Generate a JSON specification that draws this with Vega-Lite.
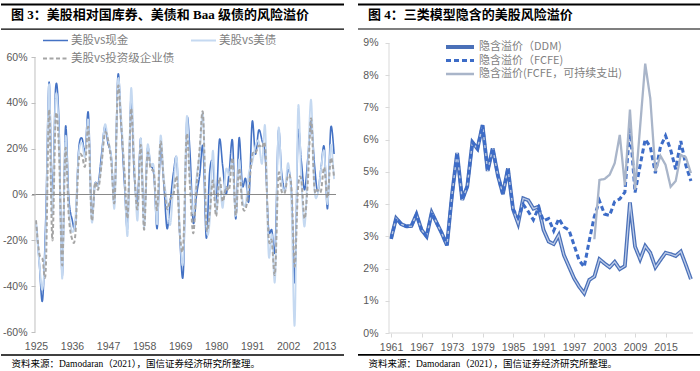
{
 "$schema": "https://vega.github.io/schema/vega-lite/v6.json",
 "background": "#ffffff",
 "padding": {"left": 0, "top": 3, "right": 0, "bottom": 0},
 "spacing": 12,
 "resolve": {
  "scale": {"x": "independent", "y": "independent", "color": "independent", "strokeDash": "independent", "strokeWidth": "independent"},
  "legend": {"color": "independent", "strokeDash": "independent", "strokeWidth": "independent"},
  "axis": {"x": "independent", "y": "independent"}
 },
 "config": {
  "view": {"stroke": null},
  "font": "Noto Sans CJK SC",
  "axis": {"grid": false, "labelFont": "Liberation Sans", "labelFontSize": 10.5, "labelColor": "#595959"},
  "legend": {"title": null, "padding": 0, "symbolType": "stroke", "labelFont": "Noto Sans CJK SC", "labelFontSize": 11.5, "labelColor": "#7F7F7F"}
 },
 "datasets": {
  "left": [
   {"年份":1925,"美股vs现金":-11.46,"美股vs美债":-12.50,"美股vs投资级企业债":-11.32},
   {"年份":1926,"美股vs现金":-29.67,"美股vs美债":-29.66,"美股vs投资级企业债":-25.66},
   {"年份":1927,"美股vs现金":-46.15,"美股vs美债":-41.28,"美股vs投资级企业债":-28.16},
   {"年份":1928,"美股vs现金":-9.71,"美股vs美债":-17.43,"美股vs投资级企业债":-32.23},
   {"年份":1929,"美股vs现金":49.02,"美股vs美债":48.12,"美股vs投资级企业债":37.01},
   {"年份":1930,"美股vs现金":-1.47,"美股vs美债":-9.15,"美股vs投资级企业债":-20.01},
   {"年份":1931,"美股vs现金":46.57,"美股vs美债":42.27,"美股vs投资级企业债":33.43},
   {"年份":1932,"美股vs现金":31.77,"美股vs美债":26.92,"美股vs投资级企业债":20.56},
   {"年份":1933,"美股vs现金":-35.62,"美股vs美债":-36.72,"美股vs投资级企业债":-30.92},
   {"年份":1934,"美股vs现金":29.21,"美股vs美债":25.07,"美股vs投资级企业债":20.04},
   {"年份":1935,"美股vs现金":-1.15,"美股vs美债":-5.51,"美股vs投资级企业债":-9.08},
   {"年份":1936,"美股vs现金":-10.71,"美股vs美债":-16.07,"美股vs投资级企业债":-19.32},
   {"年份":1937,"美股vs现金":-12.90,"美股vs美债":-10.75,"美股vs投资级企业债":-17.78},
   {"年份":1938,"美股vs现金":18.83,"美股vs美债":16.88,"美股vs投资级企业债":13.99},
   {"年份":1939,"美股vs现金":24.68,"美股vs美债":22.57,"美股vs投资级企业债":17.02},
   {"年份":1940,"美股vs现金":18.65,"美股vs美债":16.45,"美股vs投资级企业债":12.46},
   {"年份":1941,"美股vs现金":35.44,"美股vs美债":32.02,"美股vs投资级企业债":29.02},
   {"年份":1942,"美股vs现金":-8.81,"美股vs美债":-11.56,"美股vs投资级企业债":-10.94},
   {"年份":1943,"美股vs现金":4.63,"美股vs美债":4.28,"美股vs投资级企业债":4.94},
   {"年份":1944,"美股vs现金":4.68,"美股vs美债":3.75,"美股vs投资级企业债":2.26},
   {"年份":1945,"美股vs现金":17.20,"美股vs美债":13.64,"美股vs投资级企业债":12.92},
   {"年份":1946,"美股vs现金":29.64,"美股vs美债":30.38,"美股vs投资级企业债":26.57},
   {"年份":1947,"美股vs现金":22.20,"美股vs美债":23.98,"美股vs投资级企业债":23.87},
   {"年份":1948,"美股vs现金":16.48,"美股vs美债":15.88,"美股vs投资级企业债":13.71},
   {"年份":1949,"美股vs现金":-3.10,"美股vs美债":-5.35,"美股vs投资级企业债":-2.83},
   {"年份":1950,"美股vs现金":51.60,"美股vs美债":49.27,"美股vs投资级企业债":46.40},
   {"年份":1951,"美股vs现金":30.94,"美股vs美债":33.94,"美股vs投资级企业债":30.56},
   {"年份":1952,"美股vs现金":4.88,"美股vs美债":9.70,"美股vs投资级企业债":9.79},
   {"年份":1953,"美股vs现金":-13.69,"美股vs美债":-17.26,"美股vs投资级企业债":-9.74},
   {"年份":1954,"美股vs现金":41.94,"美股vs美债":45.82,"美股vs投资级企业债":37.29},
   {"年份":1955,"美股vs现金":8.80,"美股vs美债":14.71,"美股vs投资级企业债":10.49},
   {"年份":1956,"美股vs现金":-2.71,"美股vs美债":-11.30,"美股vs投资级企业债":-6.32},
   {"年份":1957,"美股vs现金":24.37,"美股vs美债":24.58,"美股vs投资级企业债":21.54},
   {"年份":1958,"美股vs现金":-11.59,"美股vs美债":-14.50,"美股vs投资级企业债":-15.31},
   {"年份":1959,"美股vs现金":19.50,"美股vs美债":20.93,"美股vs投资级企业债":17.15},
   {"年份":1960,"美股vs现金":12.91,"美股vs美债":12.69,"美股vs投资级企业债":11.26},
   {"年份":1961,"美股vs现金":8.50,"美股vs美债":11.68,"美股vs投资级企业债":9.21},
   {"年份":1962,"美股vs现金":-14.81,"美股vs美债":-12.88,"美股vs投资级企业债":-6.52},
   {"年份":1963,"美股vs现金":19.47,"美股vs美债":25.38,"美股vs投资级企业债":22.90},
   {"年份":1964,"美股vs现金":5.55,"美股vs美债":7.54,"美股vs投资级企业债":5.96},
   {"年份":1965,"美股vs现金":-14.80,"美股vs美债":-3.23,"美股vs投资级企业债":-6.21},
   {"年份":1966,"美股vs现金":-3.13,"美股vs美债":-13.19,"美股vs投资级企业债":-2.09},
   {"年份":1967,"美股vs现金":9.68,"美股vs美债":4.43,"美股vs投资级企业债":0.22},
   {"年份":1968,"美股vs现金":14.81,"美股vs美债":15.94,"美股vs投资级企业债":7.35},
   {"年份":1969,"美股vs现金":-21.04,"美股vs美债":-17.97,"美股vs投资级企业债":-18.63},
   {"年份":1970,"美股vs现金":-33.68,"美股vs美债":-27.89,"美股vs投资级企业债":-21.52},
   {"年份":1971,"美股vs现金":31.01,"美股vs美债":33.39,"美股vs投资级企业债":25.95},
   {"年份":1972,"美股vs现金":18.86,"美股vs美债":7.85,"美股vs投资级企业债":4.08},
   {"年份":1973,"美股vs现金":-12.11,"美股vs美债":-8.27,"美股vs投资级企业债":-16.93},
   {"年份":1974,"美股vs现金":-0.42,"美股vs美债":7.29,"美股vs投资级企业债":3.37},
   {"年份":1975,"美股vs现金":8.58,"美股vs美债":17.85,"美股vs投资级企业债":20.53},
   {"年份":1976,"美股vs现金":20.52,"美股vs美债":34.73,"美股vs投资级企业债":35.06},
   {"年份":1977,"美股vs现金":-19.00,"美股vs美债":-12.90,"美股vs投资级企业债":-13.16},
   {"年份":1978,"美股vs现金":9.41,"美股vs美债":-12.39,"美股vs投资级企业债":-8.63},
   {"年份":1979,"美股vs现金":13.89,"美股vs美债":19.14,"美股vs投资级企业债":6.15},
   {"年份":1980,"美股vs现金":-3.46,"美股vs美债":-7.58,"美股vs投资级企业债":-9.47},
   {"年份":1981,"美股vs现金":23.75,"美股vs美债":5.53,"美股vs投资级企业债":7.38},
   {"年份":1982,"美股vs现金":12.45,"美股vs美债":-5.79,"美股vs投资级企业债":-3.00},
   {"年份":1983,"美股vs现金":0.09,"美股vs美债":10.77,"美股vs投资级企业债":3.15},
   {"年份":1984,"美股vs现金":10.09,"美股vs美债":8.32,"美股vs投资级企业债":2.39},
   {"年份":1985,"美股vs现金":23.37,"美股vs美债":13.79,"美股vs投资级企业债":15.80},
   {"年份":1986,"美股vs现金":-10.61,"美股vs美债":-9.30,"美股vs投资级企业债":-9.09},
   {"年份":1987,"美股vs现金":24.62,"美股vs美债":15.23,"美股vs投资级企业债":11.35},
   {"年份":1988,"美股vs现金":4.08,"美股vs美债":-1.87,"美股vs投资级企业债":-4.59},
   {"年份":1989,"美股vs现金":6.99,"美股vs美债":-4.24,"美股vs投资级企业债":-6.25},
   {"年份":1990,"美股vs现金":-2.66,"美股vs美债":9.37,"美股vs投资级企业债":2.65},
   {"年份":1991,"美股vs现金":31.68,"美股vs美债":13.72,"美股vs投资级企业债":17.04},
   {"年份":1992,"美股vs现金":17.66,"美股vs美债":21.25,"美股vs投资级企业债":17.89},
   {"年份":1993,"美股vs现金":28.05,"美股vs美债":23.16,"美股vs投资级企业债":21.27},
   {"年份":1994,"美股vs现金":23.61,"美股vs美债":13.42,"美股vs投资级企业债":20.39},
   {"年份":1995,"美股vs现金":16.38,"美股vs美债":29.14,"美股vs投资级企业债":20.05},
   {"年份":1996,"美股vs现金":-14.79,"美股vs美债":-25.69,"美股vs投资级企业债":-18.36},
   {"年份":1997,"美股vs现金":-15.52,"美股vs美债":-17.42,"美股vs投资级企业债":-20.29},
   {"年份":1998,"美股vs现金":-23.63,"美股vs美债":-37.09,"美股vs投资级企业债":-34.30},
   {"年份":1999,"美股vs现金":27.33,"美股vs美债":27.98,"美股vs投资级企业债":7.99},
   {"年份":2000,"美股vs现金":9.51,"美股vs美债":6.25,"美股vs投资级企业债":1.40},
   {"年份":2001,"美股vs现金":1.82,"美股vs美债":1.96,"美股vs投资级企业债":0.98},
   {"年份":2002,"美股vs现金":10.93,"美股vs美债":13.65,"美股vs投资级企业债":8.42},
   {"年份":2003,"美股vs现金":0.84,"美股vs美债":-4.73,"美股vs投资级企业债":2.69},
   {"年份":2004,"美股vs现金":-38.14,"美股vs美债":-56.65,"美股vs投资级企业债":-31.48},
   {"年份":2005,"美股vs现金":25.80,"美股vs美债":37.06,"美股vs投资级企业债":2.61},
   {"年份":2006,"美股vs现金":14.69,"美股vs美债":6.36,"美股vs投资级企业债":6.47},
   {"年份":2007,"美股vs现金":2.07,"美股vs美债":-13.94,"美股vs投资级企业债":-10.48},
   {"年份":2008,"美股vs现金":15.84,"美股vs美债":12.92,"美股vs投资级企业债":5.77},
   {"年份":2009,"美股vs现金":32.08,"美股vs美债":41.25,"美股vs投资级企业债":33.21},
   {"年份":2010,"美股vs现金":13.47,"美股vs美债":2.77,"美股vs投资级企业债":3.14},
   {"年份":2011,"美股vs现金":1.17,"美股vs美债":0.10,"美股vs投资级企业债":2.08},
   {"年份":2012,"美股vs现金":11.26,"美股vs美债":11.08,"美股vs投资级企业债":1.40},
   {"年份":2013,"美股vs现金":20.68,"美股vs美债":18.81,"美股vs投资级企业债":11.89},
   {"年份":2014,"美股vs现金":-6.17,"美股vs美债":-4.21,"美股vs投资级企业债":-1.47},
   {"年份":2015,"美股vs现金":29.15,"美股vs美债":21.57,"美股vs投资级企业债":15.88},
   {"年份":2016,"美股vs现金":17.67,"美股vs美债":6.69,"美股vs投资级企业债":7.61}
  ],
  "right": [
   {"年份":1961,"系列":"隐含溢价（DDM)","溢价":2.92},{"年份":1962,"系列":"隐含溢价（DDM)","溢价":3.56},{"年份":1963,"系列":"隐含溢价（DDM)","溢价":3.38},{"年份":1964,"系列":"隐含溢价（DDM)","溢价":3.31},{"年份":1965,"系列":"隐含溢价（DDM)","溢价":3.32},{"年份":1966,"系列":"隐含溢价（DDM)","溢价":3.68},{"年份":1967,"系列":"隐含溢价（DDM)","溢价":3.20},{"年份":1968,"系列":"隐含溢价（DDM)","溢价":3.00},{"年份":1969,"系列":"隐含溢价（DDM)","溢价":3.74},{"年份":1970,"系列":"隐含溢价（DDM)","溢价":3.41},
   {"年份":1971,"系列":"隐含溢价（DDM)","溢价":3.09},{"年份":1972,"系列":"隐含溢价（DDM)","溢价":2.72},{"年份":1973,"系列":"隐含溢价（DDM)","溢价":4.30},{"年份":1974,"系列":"隐含溢价（DDM)","溢价":5.59},{"年份":1975,"系列":"隐含溢价（DDM)","溢价":4.13},{"年份":1976,"系列":"隐含溢价（DDM)","溢价":4.55},{"年份":1977,"系列":"隐含溢价（DDM)","溢价":5.92},{"年份":1978,"系列":"隐含溢价（DDM)","溢价":5.72},{"年份":1979,"系列":"隐含溢价（DDM)","溢价":6.45},{"年份":1980,"系列":"隐含溢价（DDM)","溢价":5.03},
   {"年份":1981,"系列":"隐含溢价（DDM)","溢价":5.73},{"年份":1982,"系列":"隐含溢价（DDM)","溢价":4.90},{"年份":1983,"系列":"隐含溢价（DDM)","溢价":4.31},{"年份":1984,"系列":"隐含溢价（DDM)","溢价":5.11},{"年份":1985,"系列":"隐含溢价（DDM)","溢价":3.84},{"年份":1986,"系列":"隐含溢价（DDM)","溢价":3.40},{"年份":1987,"系列":"隐含溢价（DDM)","溢价":4.18},{"年份":1988,"系列":"隐含溢价（DDM)","溢价":4.12},{"年份":1989,"系列":"隐含溢价（DDM)","溢价":3.86},{"年份":1990,"系列":"隐含溢价（DDM)","溢价":3.92},
   {"年份":1991,"系列":"隐含溢价（DDM)","溢价":3.20},{"年份":1992,"系列":"隐含溢价（DDM)","溢价":2.84},{"年份":1993,"系列":"隐含溢价（DDM)","溢价":2.76},{"年份":1994,"系列":"隐含溢价（DDM)","溢价":3.04},{"年份":1995,"系列":"隐含溢价（DDM)","溢价":2.42},{"年份":1996,"系列":"隐含溢价（DDM)","溢价":2.06},{"年份":1997,"系列":"隐含溢价（DDM)","溢价":1.70},{"年份":1998,"系列":"隐含溢价（DDM)","溢价":1.44},{"年份":1999,"系列":"隐含溢价（DDM)","溢价":1.23},{"年份":2000,"系列":"隐含溢价（DDM)","溢价":1.65},
   {"年份":2001,"系列":"隐含溢价（DDM)","溢价":1.75},{"年份":2002,"系列":"隐含溢价（DDM)","溢价":2.29},{"年份":2003,"系列":"隐含溢价（DDM)","溢价":2.16},{"年份":2004,"系列":"隐含溢价（DDM)","溢价":2.04},{"年份":2005,"系列":"隐含溢价（DDM)","溢价":2.21},{"年份":2006,"系列":"隐含溢价（DDM)","溢价":1.98},{"年份":2007,"系列":"隐含溢价（DDM)","溢价":2.08},{"年份":2008,"系列":"隐含溢价（DDM)","溢价":4.05},{"年份":2009,"系列":"隐含溢价（DDM)","溢价":2.68},{"年份":2010,"系列":"隐含溢价（DDM)","溢价":2.29},
   {"年份":2011,"系列":"隐含溢价（DDM)","溢价":2.70},{"年份":2012,"系列":"隐含溢价（DDM)","溢价":2.49},{"年份":2013,"系列":"隐含溢价（DDM)","溢价":2.04},{"年份":2014,"系列":"隐含溢价（DDM)","溢价":2.27},{"年份":2015,"系列":"隐含溢价（DDM)","溢价":2.49},{"年份":2016,"系列":"隐含溢价（DDM)","溢价":2.45},{"年份":2017,"系列":"隐含溢价（DDM)","溢价":2.39},{"年份":2018,"系列":"隐含溢价（DDM)","溢价":2.53},{"年份":2019,"系列":"隐含溢价（DDM)","溢价":2.11},{"年份":2020,"系列":"隐含溢价（DDM)","溢价":1.67},
   {"年份":1961,"系列":"隐含溢价（FCFE)","溢价":2.92},{"年份":1962,"系列":"隐含溢价（FCFE)","溢价":3.56},{"年份":1963,"系列":"隐含溢价（FCFE)","溢价":3.38},{"年份":1964,"系列":"隐含溢价（FCFE)","溢价":3.31},{"年份":1965,"系列":"隐含溢价（FCFE)","溢价":3.32},{"年份":1966,"系列":"隐含溢价（FCFE)","溢价":3.68},{"年份":1967,"系列":"隐含溢价（FCFE)","溢价":3.20},{"年份":1968,"系列":"隐含溢价（FCFE)","溢价":3.00},{"年份":1969,"系列":"隐含溢价（FCFE)","溢价":3.74},{"年份":1970,"系列":"隐含溢价（FCFE)","溢价":3.41},
   {"年份":1971,"系列":"隐含溢价（FCFE)","溢价":3.09},{"年份":1972,"系列":"隐含溢价（FCFE)","溢价":2.72},{"年份":1973,"系列":"隐含溢价（FCFE)","溢价":4.30},{"年份":1974,"系列":"隐含溢价（FCFE)","溢价":5.59},{"年份":1975,"系列":"隐含溢价（FCFE)","溢价":4.13},{"年份":1976,"系列":"隐含溢价（FCFE)","溢价":4.55},{"年份":1977,"系列":"隐含溢价（FCFE)","溢价":5.92},{"年份":1978,"系列":"隐含溢价（FCFE)","溢价":5.72},{"年份":1979,"系列":"隐含溢价（FCFE)","溢价":6.45},{"年份":1980,"系列":"隐含溢价（FCFE)","溢价":5.03},
   {"年份":1981,"系列":"隐含溢价（FCFE)","溢价":5.73},{"年份":1982,"系列":"隐含溢价（FCFE)","溢价":4.90},{"年份":1983,"系列":"隐含溢价（FCFE)","溢价":4.31},{"年份":1984,"系列":"隐含溢价（FCFE)","溢价":5.11},{"年份":1985,"系列":"隐含溢价（FCFE)","溢价":3.84},{"年份":1986,"系列":"隐含溢价（FCFE)","溢价":3.58},{"年份":1987,"系列":"隐含溢价（FCFE)","溢价":3.99},{"年份":1988,"系列":"隐含溢价（FCFE)","溢价":3.77},{"年份":1989,"系列":"隐含溢价（FCFE)","溢价":3.51},{"年份":1990,"系列":"隐含溢价（FCFE)","溢价":3.89},
   {"年份":1991,"系列":"隐含溢价（FCFE)","溢价":3.48},{"年份":1992,"系列":"隐含溢价（FCFE)","溢价":3.55},{"年份":1993,"系列":"隐含溢价（FCFE)","溢价":3.17},{"年份":1994,"系列":"隐含溢价（FCFE)","溢价":3.55},{"年份":1995,"系列":"隐含溢价（FCFE)","溢价":3.29},{"年份":1996,"系列":"隐含溢价（FCFE)","溢价":3.20},{"年份":1997,"系列":"隐含溢价（FCFE)","溢价":2.73},{"年份":1998,"系列":"隐含溢价（FCFE)","溢价":2.26},{"年份":1999,"系列":"隐含溢价（FCFE)","溢价":2.05},{"年份":2000,"系列":"隐含溢价（FCFE)","溢价":2.87},
   {"年份":2001,"系列":"隐含溢价（FCFE)","溢价":3.62},{"年份":2002,"系列":"隐含溢价（FCFE)","溢价":4.10},{"年份":2003,"系列":"隐含溢价（FCFE)","溢价":3.69},{"年份":2004,"系列":"隐含溢价（FCFE)","溢价":3.65},{"年份":2005,"系列":"隐含溢价（FCFE)","溢价":4.08},{"年份":2006,"系列":"隐含溢价（FCFE)","溢价":4.16},{"年份":2007,"系列":"隐含溢价（FCFE)","溢价":4.37},{"年份":2008,"系列":"隐含溢价（FCFE)","溢价":6.43},{"年份":2009,"系列":"隐含溢价（FCFE)","溢价":4.36},{"年份":2010,"系列":"隐含溢价（FCFE)","溢价":5.20},
   {"年份":2011,"系列":"隐含溢价（FCFE)","溢价":6.01},{"年份":2012,"系列":"隐含溢价（FCFE)","溢价":5.78},{"年份":2013,"系列":"隐含溢价（FCFE)","溢价":4.96},{"年份":2014,"系列":"隐含溢价（FCFE)","溢价":5.78},{"年份":2015,"系列":"隐含溢价（FCFE)","溢价":6.12},{"年份":2016,"系列":"隐含溢价（FCFE)","溢价":5.69},{"年份":2017,"系列":"隐含溢价（FCFE)","溢价":5.08},{"年份":2018,"系列":"隐含溢价（FCFE)","溢价":5.96},{"年份":2019,"系列":"隐含溢价（FCFE)","溢价":5.20},{"年份":2020,"系列":"隐含溢价（FCFE)","溢价":4.72},
   {"年份":2001,"系列":"隐含溢价(FCFE，可持续支出)","溢价":2.91},{"年份":2002,"系列":"隐含溢价(FCFE，可持续支出)","溢价":4.75},{"年份":2003,"系列":"隐含溢价(FCFE，可持续支出)","溢价":4.78},{"年份":2004,"系列":"隐含溢价(FCFE，可持续支出)","溢价":4.91},{"年份":2005,"系列":"隐含溢价(FCFE，可持续支出)","溢价":5.27},{"年份":2006,"系列":"隐含溢价(FCFE，可持续支出)","溢价":6.15},{"年份":2007,"系列":"隐含溢价(FCFE，可持续支出)","溢价":4.58},{"年份":2008,"系列":"隐含溢价(FCFE，可持续支出)","溢价":6.93},{"年份":2009,"系列":"隐含溢价(FCFE，可持续支出)","溢价":4.45},{"年份":2010,"系列":"隐含溢价(FCFE，可持续支出)","溢价":6.40},
   {"年份":2011,"系列":"隐含溢价(FCFE，可持续支出)","溢价":8.36},{"年份":2012,"系列":"隐含溢价(FCFE，可持续支出)","溢价":7.28},{"年份":2013,"系列":"隐含溢价(FCFE，可持续支出)","溢价":5.02},{"年份":2014,"系列":"隐含溢价(FCFE，可持续支出)","溢价":5.50},{"年份":2015,"系列":"隐含溢价(FCFE，可持续支出)","溢价":5.22},{"年份":2016,"系列":"隐含溢价(FCFE，可持续支出)","溢价":4.54},{"年份":2017,"系列":"隐含溢价(FCFE，可持续支出)","溢价":4.72},{"年份":2018,"系列":"隐含溢价(FCFE，可持续支出)","溢价":5.53},{"年份":2019,"系列":"隐含溢价(FCFE，可持续支出)","溢价":5.45},{"年份":2020,"系列":"隐含溢价(FCFE，可持续支出)","溢价":4.96}
  ]
 },
 "hconcat": [
  {
   "width": 343,
   "height": 351.5,
   "title": {"text": "图 3：美股相对国库券、美债和 Baa 级债的风险溢价", "anchor": "start", "frame": "group", "dx": 10, "offset": -18.5, "font": "Liberation Serif, Noto Sans CJK SC", "fontSize": 13, "fontWeight": "bold", "color": "#000000"},
   "layer": [
    {"data": {"name": "left"},
     "transform": [{"fold": ["美股vs现金", "美股vs美债", "美股vs投资级企业债"], "as": ["系列", "溢价"]}],
     "mark": {"type": "line", "interpolate": "cardinal"},
     "encoding": {
      "x": {"field": "年份", "type": "quantitative", "scale": {"domain": [1914.32, 2019.04], "nice": false, "zero": false},
       "axis": {"values": [1925, 1936, 1947, 1958, 1969, 1980, 1991, 2002, 2013], "tickCount": 30, "format": "d", "labelOverlap": false, "labelFlush": false, "offset": -22.5, "domain": false, "ticks": false, "labelPadding": 8,
        "title": "资料来源：Damodaran（2021），国信证券经济研究所整理。", "titleFont": "Liberation Serif, Noto Sans CJK SC", "titleFontSize": 9.5, "titleFontWeight": "normal", "titleColor": "#000000", "titleAnchor": "start", "titleAlign": "left", "titleX": 10, "titleY": 30.5, "titleBaseline": "middle"}},
      "y": {"field": "溢价", "type": "quantitative", "scale": {"domain": [-70.25, 83.13], "nice": false, "zero": false},
       "axis": {"values": [-60, -40, -20, 0, 20, 40, 60], "tickCount": 30, "labelExpr": "datum.value + '%'", "labelOverlap": false, "labelFlush": false, "offset": -34, "domain": false, "ticks": true, "tickSize": 4, "tickColor": "#BFBFBF", "labelPadding": 4, "title": null}},
      "color": {"field": "系列", "type": "nominal", "scale": {"domain": ["美股vs现金", "美股vs美债", "美股vs投资级企业债"], "range": ["#4472C4", "#C5D9F1", "#A5A5A5"]},
       "legend": {"orient": "none", "direction": "horizontal", "legendX": 41, "legendY": 30.5, "columns": 2, "columnPadding": 15, "rowPadding": 6, "clipHeight": 12, "symbolSize": 625, "labelOffset": 2}},
      "strokeDash": {"field": "系列", "type": "nominal", "scale": {"domain": ["美股vs现金", "美股vs美债", "美股vs投资级企业债"], "range": [[1, 0], [1, 0], [4, 2.5]]},
       "legend": {"orient": "none", "direction": "horizontal", "legendX": 41, "legendY": 30.5, "columns": 2, "columnPadding": 15, "rowPadding": 6, "clipHeight": 12, "symbolSize": 625, "labelOffset": 2}},
      "strokeWidth": {"field": "系列", "type": "nominal", "scale": {"domain": ["美股vs现金", "美股vs美债", "美股vs投资级企业债"], "range": [1.6, 2, 2.2]},
       "legend": {"orient": "none", "direction": "horizontal", "legendX": 41, "legendY": 30.5, "columns": 2, "columnPadding": 15, "rowPadding": 6, "clipHeight": 12, "symbolSize": 625, "labelOffset": 2}}
     }},
    {"data": {"values": [{"线": "零轴"}]}, "mark": {"type": "rule", "color": "#898989", "strokeWidth": 1.2},
     "encoding": {"x": {"datum": 1923.8, "type": "quantitative"}, "x2": {"datum": 2016.6}, "y": {"datum": 0, "type": "quantitative"}}},
    {"data": {"values": [{"线": "纵轴"}]}, "mark": {"type": "rule", "color": "#BFBFBF", "strokeWidth": 1},
     "encoding": {"x": {"datum": 1924.7, "type": "quantitative"}, "y": {"datum": -60, "type": "quantitative"}, "y2": {"datum": 60}}},
    {"data": {"values": [{"线": "顶线"}]}, "mark": {"type": "rule", "color": "#000000", "strokeWidth": 2},
     "encoding": {"x": {"datum": 1914.32, "type": "quantitative"}, "x2": {"datum": 2019.04}, "y": {"datum": 82.91, "type": "quantitative"}}},
    {"data": {"values": [{"线": "标题线"}]}, "mark": {"type": "rule", "color": "#000000", "strokeWidth": 1.2},
     "encoding": {"x": {"datum": 1914.32, "type": "quantitative"}, "x2": {"datum": 2019.04}, "y": {"datum": 72.13, "type": "quantitative"}}},
    {"data": {"values": [{"线": "底线"}]}, "mark": {"type": "rule", "color": "#000000", "strokeWidth": 1.6},
     "encoding": {"x": {"datum": 1914.32, "type": "quantitative"}, "x2": {"datum": 2019.04}, "y": {"datum": -70.03, "type": "quantitative"}}}
   ]
  },
  {
   "width": 345,
   "height": 351.5,
   "title": {"text": "图 4：三类模型隐含的美股风险溢价", "anchor": "start", "frame": "group", "dx": 10, "offset": -18.5, "font": "Liberation Serif, Noto Sans CJK SC", "fontSize": 13, "fontWeight": "bold", "color": "#000000"},
   "layer": [
    {"data": {"name": "right"},
     "transform": [{"filter": {"field": "系列", "equal": "隐含溢价（DDM)"}}],
     "mark": {"type": "line"},
     "encoding": {
      "x": {"field": "年份", "type": "quantitative", "scale": {"domain": [1954.5, 2022.37], "nice": false, "zero": false},
       "axis": {"values": [1961, 1967, 1973, 1979, 1985, 1991, 1997, 2003, 2009, 2015], "tickCount": 30, "format": "d", "labelOverlap": false, "labelFlush": false, "offset": -22.5, "domain": false, "ticks": true, "tickSize": 4, "tickColor": "#D9D9D9", "labelPadding": 5,
        "title": "资料来源：Damodaran（2021），国信证券经济研究所整理。", "titleFont": "Liberation Serif, Noto Sans CJK SC", "titleFontSize": 9.5, "titleFontWeight": "normal", "titleColor": "#000000", "titleAnchor": "start", "titleAlign": "left", "titleX": 10, "titleY": 30.5, "titleBaseline": "middle"}},
      "y": {"field": "溢价", "type": "quantitative", "scale": {"domain": [-0.698, 10.21], "nice": false, "zero": false},
       "axis": {"values": [0, 1, 2, 3, 4, 5, 6, 7, 8, 9], "tickCount": 30, "labelExpr": "datum.value + '%'", "labelOverlap": false, "labelFlush": false, "offset": -31, "domain": false, "ticks": true, "tickSize": 4, "tickColor": "#D9D9D9", "labelPadding": 7, "title": null}},
      "color": {"field": "系列", "type": "nominal", "scale": {"domain": ["隐含溢价（DDM)", "隐含溢价（FCFE)", "隐含溢价(FCFE，可持续支出)"], "range": ["#4A70B8", "#3D6CC7", "#A9B5C9"]},
       "legend": {"orient": "none", "legendX": 86, "legendY": 37, "rowPadding": 1.5, "clipHeight": 12, "symbolSize": 784, "labelOffset": 3, "labelFontSize": 11}},
      "strokeDash": {"field": "系列", "type": "nominal", "scale": {"domain": ["隐含溢价（DDM)", "隐含溢价（FCFE)", "隐含溢价(FCFE，可持续支出)"], "range": [[1, 0], [5, 3], [1, 0]]},
       "legend": {"orient": "none", "legendX": 86, "legendY": 37, "rowPadding": 1.5, "clipHeight": 12, "symbolSize": 784, "labelOffset": 3, "labelFontSize": 11}},
      "strokeWidth": {"field": "系列", "type": "nominal", "scale": {"domain": ["隐含溢价（DDM)", "隐含溢价（FCFE)", "隐含溢价(FCFE，可持续支出)"], "range": [3.8, 2.3, 1.8]},
       "legend": {"orient": "none", "legendX": 86, "legendY": 37, "rowPadding": 1.5, "clipHeight": 12, "symbolSize": 784, "labelOffset": 3, "labelFontSize": 11}}
     }},
    {"data": {"name": "right"},
     "transform": [{"filter": {"field": "系列", "equal": "隐含溢价（DDM)"}}],
     "mark": {"type": "line", "color": "#BCCBE8", "strokeWidth": 1.3},
     "encoding": {"x": {"field": "年份", "type": "quantitative"}, "y": {"field": "溢价", "type": "quantitative"}}},
    {"data": {"name": "right"},
     "transform": [{"filter": {"field": "系列", "equal": "隐含溢价（FCFE)"}}],
     "mark": {"type": "line"},
     "encoding": {
      "x": {"field": "年份", "type": "quantitative"},
      "y": {"field": "溢价", "type": "quantitative"},
      "color": {"field": "系列", "type": "nominal"},
      "strokeDash": {"field": "系列", "type": "nominal"},
      "strokeWidth": {"field": "系列", "type": "nominal"}
     }},
    {"data": {"name": "right"},
     "transform": [{"filter": {"field": "系列", "equal": "隐含溢价(FCFE，可持续支出)"}}],
     "mark": {"type": "line"},
     "encoding": {
      "x": {"field": "年份", "type": "quantitative"},
      "y": {"field": "溢价", "type": "quantitative"},
      "color": {"field": "系列", "type": "nominal"},
      "strokeDash": {"field": "系列", "type": "nominal"},
      "strokeWidth": {"field": "系列", "type": "nominal"}
     }},
    {"data": {"values": [{"线": "横轴"}]}, "mark": {"type": "rule", "color": "#D9D9D9", "strokeWidth": 1},
     "encoding": {"x": {"datum": 1960.6, "type": "quantitative"}, "x2": {"datum": 2020.4}, "y": {"datum": 0, "type": "quantitative"}}},
    {"data": {"values": [{"线": "纵轴"}]}, "mark": {"type": "rule", "color": "#D9D9D9", "strokeWidth": 1},
     "encoding": {"x": {"datum": 1960.6, "type": "quantitative"}, "y": {"datum": 0, "type": "quantitative"}, "y2": {"datum": 9}}},
    {"data": {"values": [{"线": "顶线"}]}, "mark": {"type": "rule", "color": "#000000", "strokeWidth": 2},
     "encoding": {"x": {"datum": 1954.5, "type": "quantitative"}, "x2": {"datum": 2022.37}, "y": {"datum": 10.195, "type": "quantitative"}}},
    {"data": {"values": [{"线": "标题线"}]}, "mark": {"type": "rule", "color": "#000000", "strokeWidth": 1.2},
     "encoding": {"x": {"datum": 1954.5, "type": "quantitative"}, "x2": {"datum": 2022.37}, "y": {"datum": 9.434, "type": "quantitative"}}},
    {"data": {"values": [{"线": "底线"}]}, "mark": {"type": "rule", "color": "#000000", "strokeWidth": 1.6},
     "encoding": {"x": {"datum": 1954.5, "type": "quantitative"}, "x2": {"datum": 2022.37}, "y": {"datum": -0.68, "type": "quantitative"}}}
   ]
  }
 ]
}
